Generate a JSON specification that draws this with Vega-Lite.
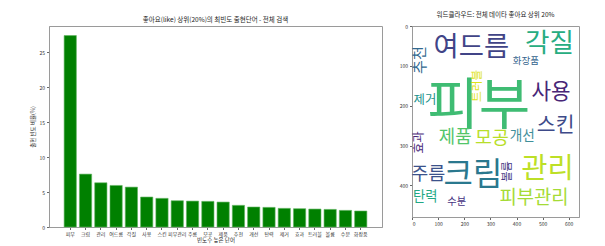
{
  "$schema": "https://vega.github.io/schema/vega-lite/v6.json",
  "background": "white",
  "padding": {"left": 30, "top": 11, "right": 5, "bottom": 0},
  "spacing": 15,
  "datasets": {
    "bars": [
      {"word": "피부", "ratio": 27.4},
      {"word": "크림", "ratio": 7.57},
      {"word": "관리", "ratio": 6.33},
      {"word": "여드름", "ratio": 5.95},
      {"word": "각질", "ratio": 5.71},
      {"word": "사용", "ratio": 4.29},
      {"word": "스킨", "ratio": 4.1},
      {"word": "피부관리", "ratio": 3.76},
      {"word": "주름", "ratio": 3.71},
      {"word": "모공", "ratio": 3.67},
      {"word": "제품", "ratio": 3.57},
      {"word": "추천", "ratio": 3.1},
      {"word": "개선", "ratio": 2.86},
      {"word": "탄력", "ratio": 2.81},
      {"word": "제거", "ratio": 2.67},
      {"word": "효과", "ratio": 2.62},
      {"word": "트러블", "ratio": 2.57},
      {"word": "볼륨", "ratio": 2.52},
      {"word": "수분", "ratio": 2.38},
      {"word": "화장품", "ratio": 2.29}
    ],
    "cloud": [
      {"word": "피부", "freq": 27.4, "x": 255, "y": 203, "orient": "h"},
      {"word": "크림", "freq": 7.57, "x": 233, "y": 373, "orient": "h"},
      {"word": "관리", "freq": 6.33, "x": 519, "y": 360, "orient": "h"},
      {"word": "여드름", "freq": 5.95, "x": 227, "y": 54, "orient": "h"},
      {"word": "각질", "freq": 5.71, "x": 526, "y": 45, "orient": "h"},
      {"word": "사용", "freq": 4.29, "x": 532, "y": 168, "orient": "h"},
      {"word": "스킨", "freq": 4.1, "x": 550, "y": 252, "orient": "h"},
      {"word": "피부관리", "freq": 3.76, "x": 467, "y": 433, "orient": "h"},
      {"word": "주름", "freq": 3.71, "x": 62, "y": 371, "orient": "h"},
      {"word": "모공", "freq": 3.67, "x": 306, "y": 282, "orient": "h"},
      {"word": "제품", "freq": 3.57, "x": 165, "y": 281, "orient": "h"},
      {"word": "추천", "freq": 3.1, "x": 30, "y": 85, "orient": "v"},
      {"word": "개선", "freq": 2.86, "x": 422, "y": 276, "orient": "h"},
      {"word": "탄력", "freq": 2.81, "x": 50, "y": 428, "orient": "h"},
      {"word": "제거", "freq": 2.67, "x": 49, "y": 185, "orient": "h"},
      {"word": "효과", "freq": 2.62, "x": 28, "y": 292, "orient": "v"},
      {"word": "트러블", "freq": 2.57, "x": 254, "y": 150, "orient": "v"},
      {"word": "볼륨", "freq": 2.52, "x": 369, "y": 365, "orient": "v"},
      {"word": "수분", "freq": 2.38, "x": 171, "y": 442, "orient": "h"},
      {"word": "화장품", "freq": 2.29, "x": 436, "y": 87, "orient": "h"}
    ]
  },
  "config": {
    "font": "Noto Sans CJK KR",
    "view": {"stroke": "#9a9a9a", "strokeWidth": 1},
    "axis": {
      "labelFontSize": 5,
      "labelColor": "#333",
      "titleFontSize": 5.5,
      "titleFontWeight": "normal",
      "titleColor": "#222",
      "tickSize": 2.5,
      "tickColor": "#666",
      "domainColor": "#9a9a9a",
      "grid": false,
      "labelPadding": 2
    },
    "title": {"fontSize": 6.5, "fontWeight": "normal", "color": "#222"}
  },
  "hconcat": [
    {
      "width": 333,
      "height": 201,
      "title": {"text": "좋아요(like) 상위(20%)의 최빈도 출현단어 - 전체 검색", "offset": 3},
      "data": {"name": "bars"},
      "mark": {"type": "bar", "color": "#008000", "stroke": "#5fb35f", "strokeWidth": 0.6},
      "encoding": {
        "x": {
          "field": "word", "type": "nominal", "sort": null,
          "scale": {"paddingInner": 0.2, "paddingOuter": 0.99},
          "axis": {"title": "빈도수 높은 단어", "labelAngle": 0, "titlePadding": 1}
        },
        "y": {
          "field": "ratio", "type": "quantitative",
          "scale": {"domain": [0, 28.77], "nice": false},
          "axis": {"values": [0, 5, 10, 15, 20, 25], "title": "출현 빈도 비율(%)", "titlePadding": 3}
        }
      }
    },
    {
      "width": 167,
      "height": 191,
      "title": {"text": "워드클라우드: 전체 데이타 좋아요 상위 20%", "offset": 6},
      "data": {"name": "cloud"},
      "encoding": {
        "x": {
          "field": "x", "type": "quantitative",
          "scale": {"domain": [-0.5, 639.5], "nice": false, "zero": false},
          "axis": {"values": [0, 100, 200, 300, 400, 500, 600], "title": null}
        },
        "y": {
          "field": "y", "type": "quantitative",
          "scale": {"domain": [479.5, -0.5], "nice": false, "zero": false},
          "axis": {"values": [0, 100, 200, 300, 400], "title": null}
        },
        "text": {"field": "word", "type": "nominal"},
        "size": {
          "field": "freq", "type": "quantitative",
          "scale": {"type": "log", "domain": [2.29, 27.4], "range": [9.5, 56]},
          "legend": null
        },
        "color": {
          "field": "word", "type": "nominal", "legend": null,
          "scale": {
            "domain": ["피부", "크림", "관리", "여드름", "각질", "사용", "스킨", "피부관리", "주름", "모공", "제품", "추천", "개선", "탄력", "제거", "효과", "트러블", "볼륨", "수분", "화장품"],
            "range": ["#3fbc73", "#2a788e", "#bddf26", "#414487", "#27ad81", "#482677", "#3e4a89", "#a5db36", "#3b528b", "#b8de29", "#52c569", "#31688e", "#3f8f9a", "#22a884", "#21918c", "#482878", "#dde318", "#443983", "#46337f", "#33638d"]
          }
        }
      },
      "layer": [
        {
          "transform": [{"filter": "datum.orient == 'h'"}],
          "mark": {"type": "text", "align": "center", "baseline": "middle"}
        },
        {
          "transform": [{"filter": "datum.orient == 'v'"}],
          "mark": {"type": "text", "align": "center", "baseline": "middle", "angle": 270}
        }
      ]
    }
  ]
}
